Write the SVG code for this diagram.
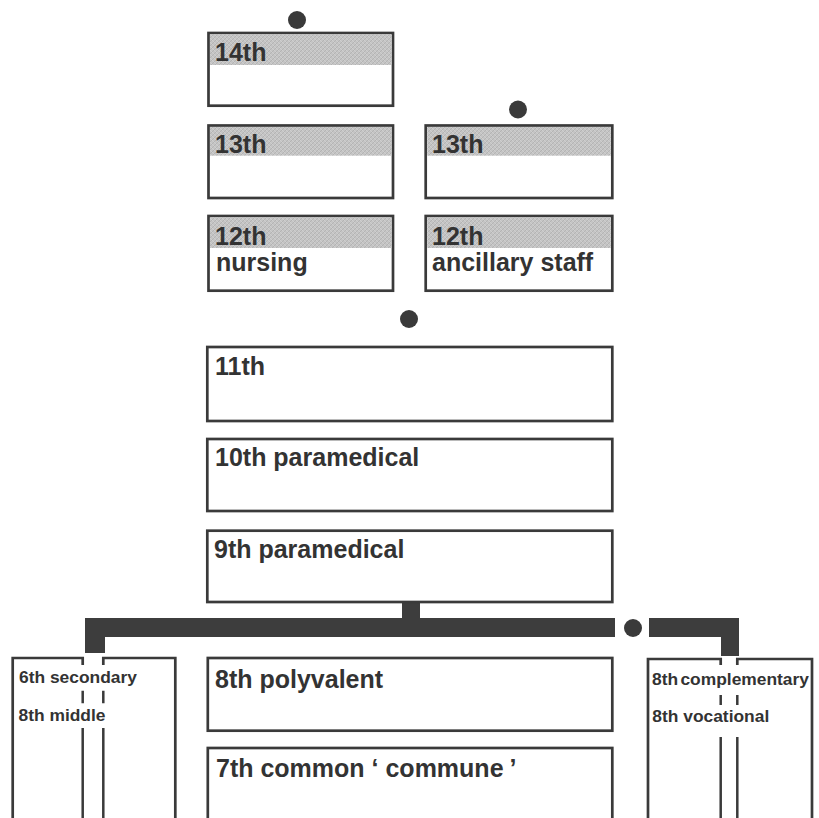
<svg xmlns="http://www.w3.org/2000/svg" width="819" height="818" viewBox="0 0 819 818">
<style>
.box{fill:#fff;stroke:#3a3a3a;stroke-width:2.7}
.frame{fill:none;stroke:#3a3a3a;stroke-width:2.7}
.ln{fill:none;stroke:#3a3a3a;stroke-width:2.5}
.shade{fill:url(#hatch)}
.t{font-family:"Liberation Sans",Arial,Helvetica,sans-serif;font-weight:bold;font-size:25px;fill:#333}
.s{font-family:"Liberation Sans",Arial,Helvetica,sans-serif;font-weight:bold;font-size:17.4px;fill:#333}
.bar{fill:#3d3d3d}
.dot{fill:#3a3a3a}
</style>
<defs>
<pattern id="hatch" width="4" height="4" patternUnits="userSpaceOnUse">
<rect width="4" height="4" fill="#c4c4c4"/>
<path d="M0,4 L4,0 M-1,1 L1,-1 M3,5 L5,3" stroke="#b0b0b0" stroke-width="0.8"/>
<path d="M0,0 L4,4 M-1,3 L1,5 M3,-1 L5,1" stroke="#d2d2d2" stroke-width="0.8"/>
</pattern>
</defs>
<rect width="819" height="818" fill="#fff"/>

<g id="connectors">
<path class="bar" d="M85,618 H615 V637 H105 V653 H85 Z"/>
<rect class="bar" x="402" y="602" width="18" height="17"/>
<path class="bar" d="M649,618 H739 V656 H721 V637 H649 Z"/>
</g>

<g id="dots">
<circle class="dot" cx="297" cy="20" r="9"/>
<circle class="dot" cx="518" cy="109.5" r="9"/>
<circle class="dot" cx="409" cy="319" r="9"/>
<circle class="dot" cx="633" cy="628" r="9"/>
</g>

<g id="n14">
<rect class="box" x="208.5" y="33" width="184.5" height="72.7"/>
<rect class="shade" x="210" y="34.5" width="181.5" height="30.5"/>
<text class="t" x="215" y="61">14th</text>
</g>

<g id="n13a">
<rect class="box" x="208.5" y="125.5" width="184.5" height="72.5"/>
<rect class="shade" x="210" y="127" width="181.5" height="28.7"/>
<text class="t" x="215" y="153">13th</text>
</g>

<g id="n13b">
<rect class="box" x="425.7" y="125.5" width="186.6" height="72.5"/>
<rect class="shade" x="427.2" y="127" width="183.6" height="28.7"/>
<text class="t" x="432" y="153">13th</text>
</g>

<g id="n12a">
<rect class="box" x="208.5" y="216" width="184.5" height="74.7"/>
<rect class="shade" x="210" y="217.5" width="181.5" height="30.5"/>
<text class="t" x="215" y="245">12th</text>
<text class="t" x="216" y="271">nursing</text>
</g>

<g id="n12b">
<rect class="box" x="425.7" y="216" width="186.6" height="74.7"/>
<rect class="shade" x="427.2" y="217.5" width="183.6" height="30.5"/>
<text class="t" x="432" y="245">12th</text>
<text class="t" x="432" y="271">ancillary staff</text>
</g>

<g id="n11">
<rect class="box" x="207.3" y="347" width="405" height="74"/>
<text class="t" x="215" y="375">11th</text>
</g>

<g id="n10">
<rect class="box" x="207.3" y="439" width="405" height="72"/>
<text class="t" x="215" y="466">10th paramedical</text>
</g>

<g id="n9">
<rect class="box" x="207.3" y="530.7" width="405" height="71.3"/>
<text class="t" x="214" y="558">9th paramedical</text>
</g>

<g id="n8poly">
<rect class="box" x="207.8" y="658" width="404.5" height="72.7"/>
<text class="t" x="215" y="688">8th polyvalent</text>
</g>

<g id="n7">
<rect class="box" x="207.8" y="748" width="404.5" height="80"/>
<text class="t" x="216" y="777">7th common ‘ commune<tspan dx="6">’</tspan></text>
</g>

<g id="nleft">
<path class="frame" d="M82.7,665 V658 H12.7 V830 M103.3,665 V658 H175.3 V830"/>
<path class="ln" d="M82.7,690.7 V703.3 M103.3,690.7 V703.3 M82.7,728 V830 M103.3,728 V830"/>
<text class="s" x="19" y="682.7">6th secondary</text>
<text class="s" x="18.5" y="720.7">8th middle</text>
</g>

<g id="nright">
<path class="frame" d="M720.7,665 V659 H648 V830 M737.3,665 V659 H812 V830"/>
<path class="ln" d="M720.7,695 V705 M737.3,695 V705 M720.7,737 V830 M737.3,737 V830"/>
<text class="s" x="652" y="685" font-size="17" word-spacing="-2.5">8th complementary</text>
<text class="s" x="652.3" y="722">8th vocational</text>
</g>
</svg>
